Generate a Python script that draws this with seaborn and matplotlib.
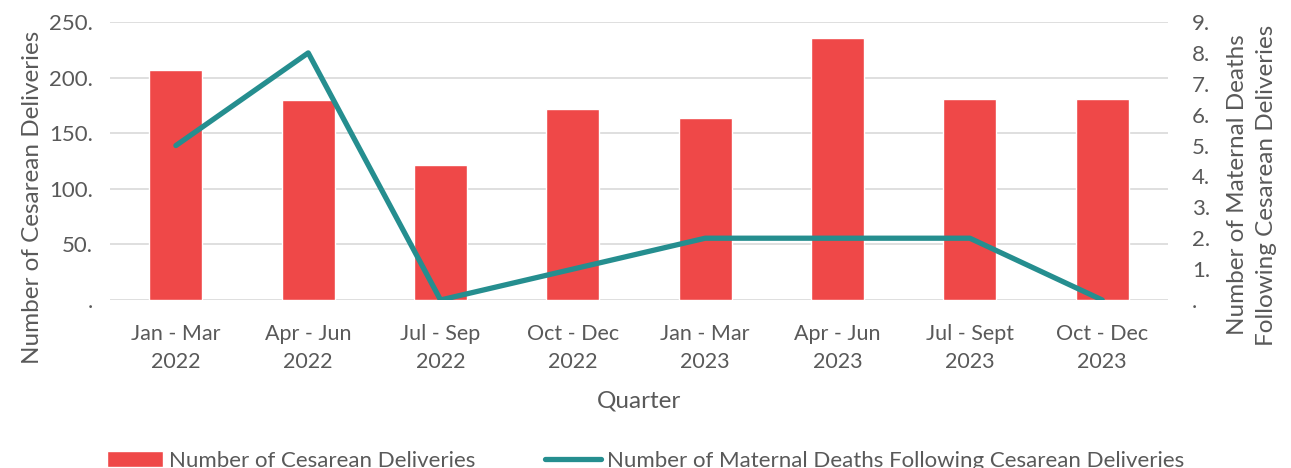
import matplotlib
matplotlib.use("Agg")
import matplotlib.pyplot as plt
import seaborn as sns
import pandas as pd
from matplotlib.ticker import FuncFormatter, MultipleLocator
from matplotlib.lines import Line2D
from matplotlib.patches import Patch

quarters = ["Jan - Mar\n2022", "Apr - Jun\n2022", "Jul - Sep\n2022", "Oct - Dec\n2022",
            "Jan - Mar\n2023", "Apr - Jun\n2023", "Jul - Sept\n2023", "Oct - Dec\n2023"]
deliveries = [207, 180, 121, 172, 164, 236, 181, 181]
deaths = [5, 8, 0, 1, 2, 2, 2, 0]

bar_color = "#EF4848"
line_color = "#258E8F"
text_color = "#595959"

sns.set_style("white")
plt.rcParams["font.family"] = ["Lato", "DejaVu Sans"]

df = pd.DataFrame({"Quarter": quarters, "Deliveries": deliveries,
                   "Deaths": deaths, "pos": range(len(quarters))})

fig, ax = plt.subplots(figsize=(12.91, 4.68), dpi=100)
fig.subplots_adjust(left=0.085, right=0.905, top=0.953, bottom=0.359)

sns.barplot(data=df, x="Quarter", y="Deliveries", color=bar_color, width=0.4,
            saturation=1, ax=ax, zorder=2)
ax.set_xlim(-0.5, len(quarters) - 0.5)
ax.set_ylim(0, 250)
ax.yaxis.set_major_locator(MultipleLocator(50))
ax.yaxis.set_major_formatter(FuncFormatter(lambda v, p: f"{int(v)}." if v else "."))
ax.grid(axis="y", color="#D9D9D9", linewidth=1.2, zorder=0)
ax.set_axisbelow(True)
for s in ax.spines.values():
    s.set_visible(False)
ax.tick_params(axis="x", length=0, labelsize=15.5, colors=text_color, pad=17)
ax.tick_params(axis="y", length=0, labelsize=16, colors=text_color, pad=12)
for lbl in ax.get_xticklabels():
    lbl.set_linespacing(1.5)
ax.set_xlabel("Quarter", fontsize=17.5, color=text_color)
ax.xaxis.set_label_coords(0.5, -0.327)
ax.set_ylabel("Number of Cesarean Deliveries", fontsize=17.5, color=text_color)
ax.yaxis.set_label_coords(-0.063, 0.37)

ax2 = ax.twinx()
sns.lineplot(data=df, x="pos", y="Deaths", color=line_color, linewidth=3.8,
             ax=ax2, zorder=3)
ax2.set_ylim(0, 9)
ax2.yaxis.set_major_locator(MultipleLocator(1))
ax2.yaxis.set_major_formatter(FuncFormatter(lambda v, p: f"{int(v)}." if v else "."))
for s in ax2.spines.values():
    s.set_visible(False)
ax2.tick_params(axis="y", length=0, labelsize=16, colors=text_color, pad=17)
ax2.set_xlabel("")
ax2.set_ylabel("Number of Maternal Deaths\nFollowing Cesarean Deliveries", fontsize=17.5,
               color=text_color, linespacing=1.5, rotation=90)
ax2.yaxis.set_label_coords(1.055, 0.414)

handles = [Patch(facecolor=bar_color), Line2D([0], [0], color=line_color, linewidth=3.8)]
labels = ["Number of Cesarean Deliveries", "Number of Maternal Deaths Following Cesarean Deliveries"]
fig.legend(handles, labels, loc="center", bbox_to_anchor=(0.5, 0.015), ncol=2, frameon=False,
           fontsize=16, labelcolor=text_color, handlelength=2.5, handletextpad=0.27,
           columnspacing=3.15)

plt.savefig("out.png", dpi=100)
